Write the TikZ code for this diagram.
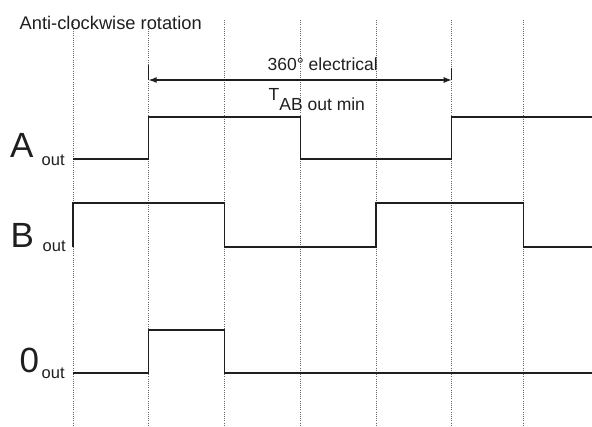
\documentclass[tikz,border=0pt]{standalone}
\usepackage{fontspec}
\setmainfont{Liberation Sans}
\usetikzlibrary{arrows.meta}

\begin{document}
\begin{tikzpicture}[x=1pt, y=-1pt,
        grid/.style={black!60, line width=0.9pt, dash pattern=on 0.9pt off 1.3pt},
        signal/.style={black!88, line width=1.5pt},
        tick/.style={black!88, line width=1pt},
        dimarrow/.style={{Latex[length=8pt,width=6pt]}-{Latex[length=8pt,width=6pt]}, black!88, line width=1.1pt},
        lbl/.style={inner sep=0pt, anchor=base west, text=black!88},
        note/.style={lbl, font=\fontsize{17.5}{21}\selectfont},
        siglabel/.style={lbl, font=\fontsize{35}{40}\selectfont},
        sublabel/.style={lbl, font=\fontsize{16.5}{20}\selectfont}
    ]
        \useasboundingbox (0,0) rectangle (592,426);

        % --- Time grid (dotted) ---
        \foreach \n/\x in {0/73, 1/148.7, 2/224.7, 3/300.7, 4/376, 5/451.7, 6/523.5} {
            \coordinate (top\n) at (\x,20);
            \coordinate (bot\n) at (\x,426);
            \draw[grid] (top\n) -- (bot\n);
        }

        % --- Heading ---
        \node[note, font=\fontsize{18.3}{22}\selectfont] (title) at (19.5,29.5) {Anti-clockwise rotation};

        % --- 360 deg span ---
        \coordinate (spanL) at (148.7,80);
        \coordinate (spanR) at (451.7,80);
        \draw[tick] (148.7,65) -- (spanL);
        \draw[tick] (451.7,68) -- (spanR);
        \draw[dimarrow] (spanL) -- (spanR);
        \node[note] (elec) at (267.5,70) {360° electrical};
        \node[note] (tab) at (268.5,100) {T\raisebox{-10pt}{AB out min}};

        % --- A_out ---
        \node[siglabel] (Alab) at (9.8,157) {A};
        \node[sublabel] (Asub) at (41.5,165) {out};
        \draw[signal] (73,159) -- (148.7,159) -- (148.7,117) -- (300.7,117)
            -- (300.7,159) -- (451.7,159) -- (451.7,117) -- (592,117);

        % --- B_out ---
        \node[siglabel] (Blab) at (10.4,247) {B};
        \node[sublabel] (Bsub) at (42.5,251) {out};
        \draw[signal] (73,247) -- (73,203) -- (224.7,203) -- (224.7,247)
            -- (376,247) -- (376,203) -- (523.5,203) -- (523.5,247) -- (592,247);

        % --- 0_out ---
        \node[siglabel] (Zlab) at (19.5,372) {0};
        \node[sublabel] (Zsub) at (41.5,378) {out};
        \draw[signal] (73,373) -- (148.7,373) -- (148.7,330) -- (224.7,330)
            -- (224.7,373) -- (592,373);

    \end{tikzpicture}
\end{document}
